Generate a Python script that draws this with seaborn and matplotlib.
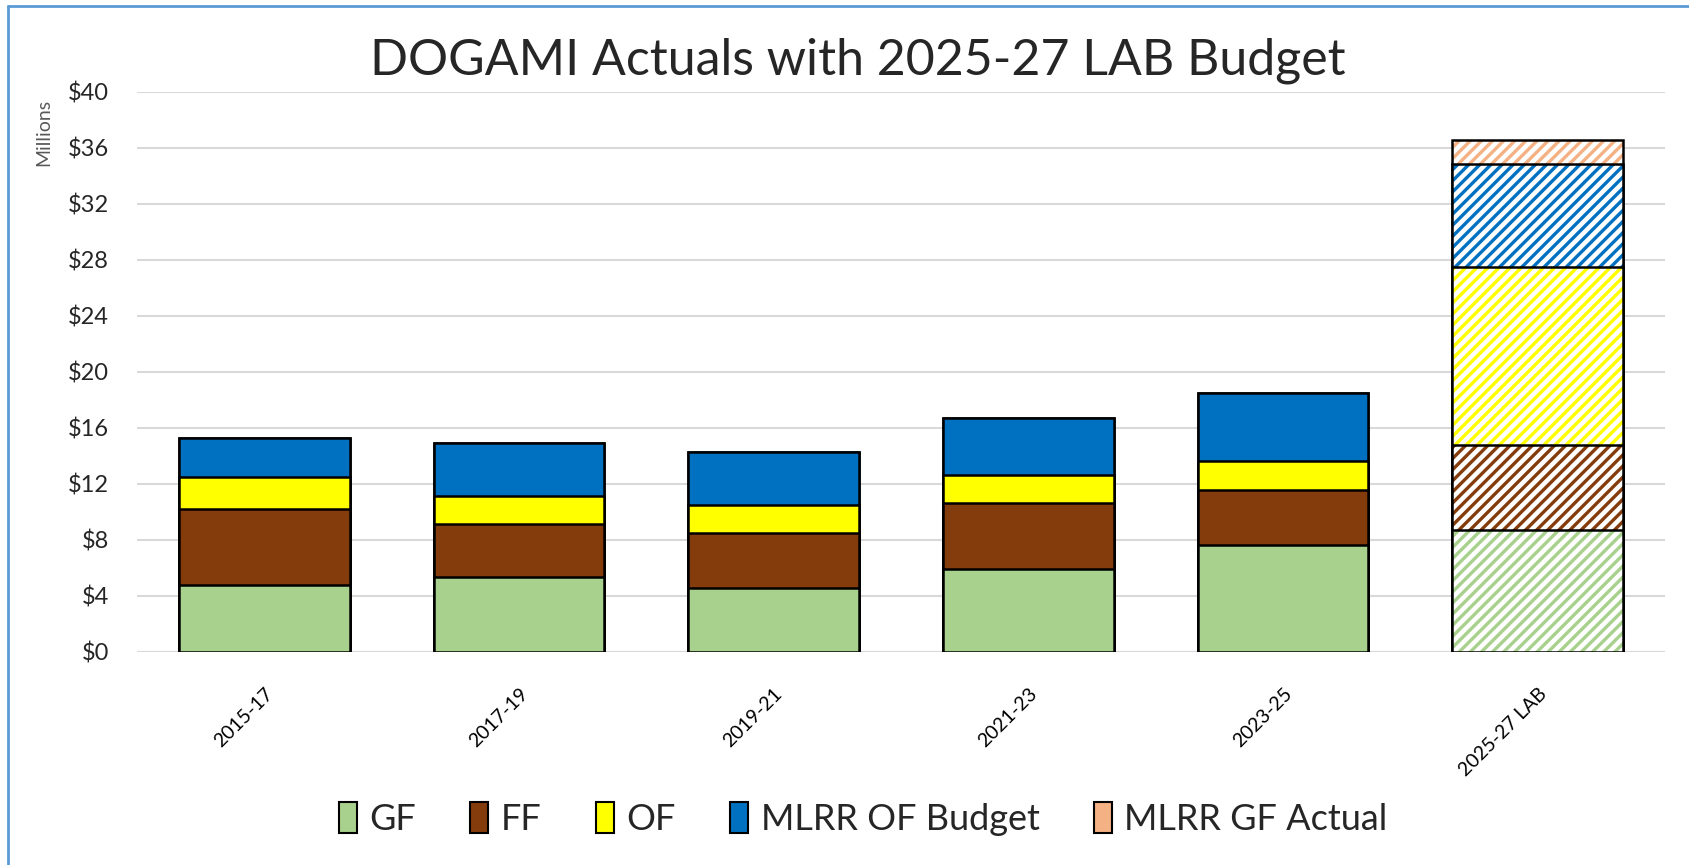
import matplotlib
matplotlib.use("Agg")
import matplotlib.pyplot as plt
from matplotlib.patches import Patch, Rectangle
from matplotlib.lines import Line2D
import seaborn as sns
import numpy as np

# values in $ millions
periods = ["2015-17", "2017-19", "2019-21", "2021-23", "2023-25", "2025-27 LAB"]
gf = [4.74, 5.31, 4.57, 5.90, 7.62, 8.70]
ff = [5.43, 3.81, 3.88, 4.70, 3.90, 6.06]
of = [2.31, 2.02, 2.05, 2.04, 2.10, 12.69]
mlrr_of = [2.76, 3.74, 3.79, 4.03, 4.88, 7.38]
mlrr_gf = [0.0, 0.0, 0.0, 0.0, 0.0, 1.73]

series_names = ["GF", "FF", "OF", "MLRR OF Budget", "MLRR GF Actual"]
series_colors = ["#A9D18E", "#843C0C", "#FFFF00", "#0070C0", "#F4B183"]
hatched_period = "2025-27 LAB"

sns.set_style("white")
plt.rcParams["font.family"] = ["Lato", "DejaVu Sans"]
plt.rcParams["hatch.linewidth"] = 2.4

fig = plt.figure(figsize=(16.89, 8.65), dpi=100)
ax = fig.add_axes([137 / 1689, 1 - 651.7 / 865, (1665 - 137) / 1689, (651.7 - 91.7) / 865])

stack = np.cumsum([gf, ff, of, mlrr_of, mlrr_gf], axis=0)
hatch_idx = periods.index(hatched_period)

z = 2
# draw tallest cumulative layer first so lower layers sit on top
for i in range(len(series_names) - 1, -1, -1):
    n_before = len(ax.patches)
    sns.barplot(x=periods, y=stack[i], color=series_colors[i], saturation=1,
                width=0.67, edgecolor="black", linewidth=1.8, ax=ax, zorder=z)
    new = ax.patches[n_before:]
    for p in new:
        p.set_zorder(z)
    hp = new[hatch_idx]
    hp.set_facecolor("white")
    hp.set_edgecolor(series_colors[i])
    hp.set_hatch("///")
    hp.set_linewidth(0)
    ax.add_patch(Rectangle((hp.get_x(), hp.get_y()), hp.get_width(), hp.get_height(),
                           fill=False, edgecolor="black", linewidth=1.8, zorder=z + 0.5))
    z += 1

ax.set_xlim(-0.5, len(periods) - 0.5)
ax.set_ylim(0, 40)
ax.set_yticks(range(0, 41, 4))
ax.set_yticklabels([f"${v}" for v in range(0, 41, 4)], fontsize=17)
ax.yaxis.grid(True, color="#D9D9D9", linewidth=1.5, zorder=0)
ax.set_axisbelow(True)
for s in ax.spines.values():
    s.set_visible(False)
ax.axhline(0, color="#D9D9D9", linewidth=1.5, zorder=1)
ax.tick_params(axis="y", length=0, pad=20)
ax.tick_params(axis="x", length=0, pad=24)
ax.set_xlabel("")
ax.set_ylabel("")
plt.setp(ax.get_xticklabels(), rotation=45, ha="right", rotation_mode="anchor",
         fontsize=14, color="black")

fig.text(44 / 1689, 1 - 132 / 865, "Millions", rotation=90, color="#595959",
         fontsize=14, ha="center", va="center")
fig.text(0.508, 1 - 61 / 865, "DOGAMI Actuals with 2025-27 LAB Budget",
         fontsize=36, ha="center", va="center")

handles = [Patch(facecolor=c, edgecolor="black", linewidth=1.5) for c in series_colors]
fig.legend(handles, series_names, loc="center", bbox_to_anchor=(0.511, 1 - 819 / 865),
           ncol=5, frameon=False, fontsize=26, handlelength=0.5, handleheight=0.95,
           handletextpad=0.35, columnspacing=1.5)

# light blue chart border (left and top visible)
fig.add_artist(Line2D([8 / 1689, 8 / 1689], [0, 1 - 6 / 865], transform=fig.transFigure,
                      color="#5B9BD5", linewidth=2))
fig.add_artist(Line2D([8 / 1689, 1], [1 - 6 / 865, 1 - 6 / 865], transform=fig.transFigure,
                      color="#5B9BD5", linewidth=2))

fig.savefig("out.png", dpi=100)
